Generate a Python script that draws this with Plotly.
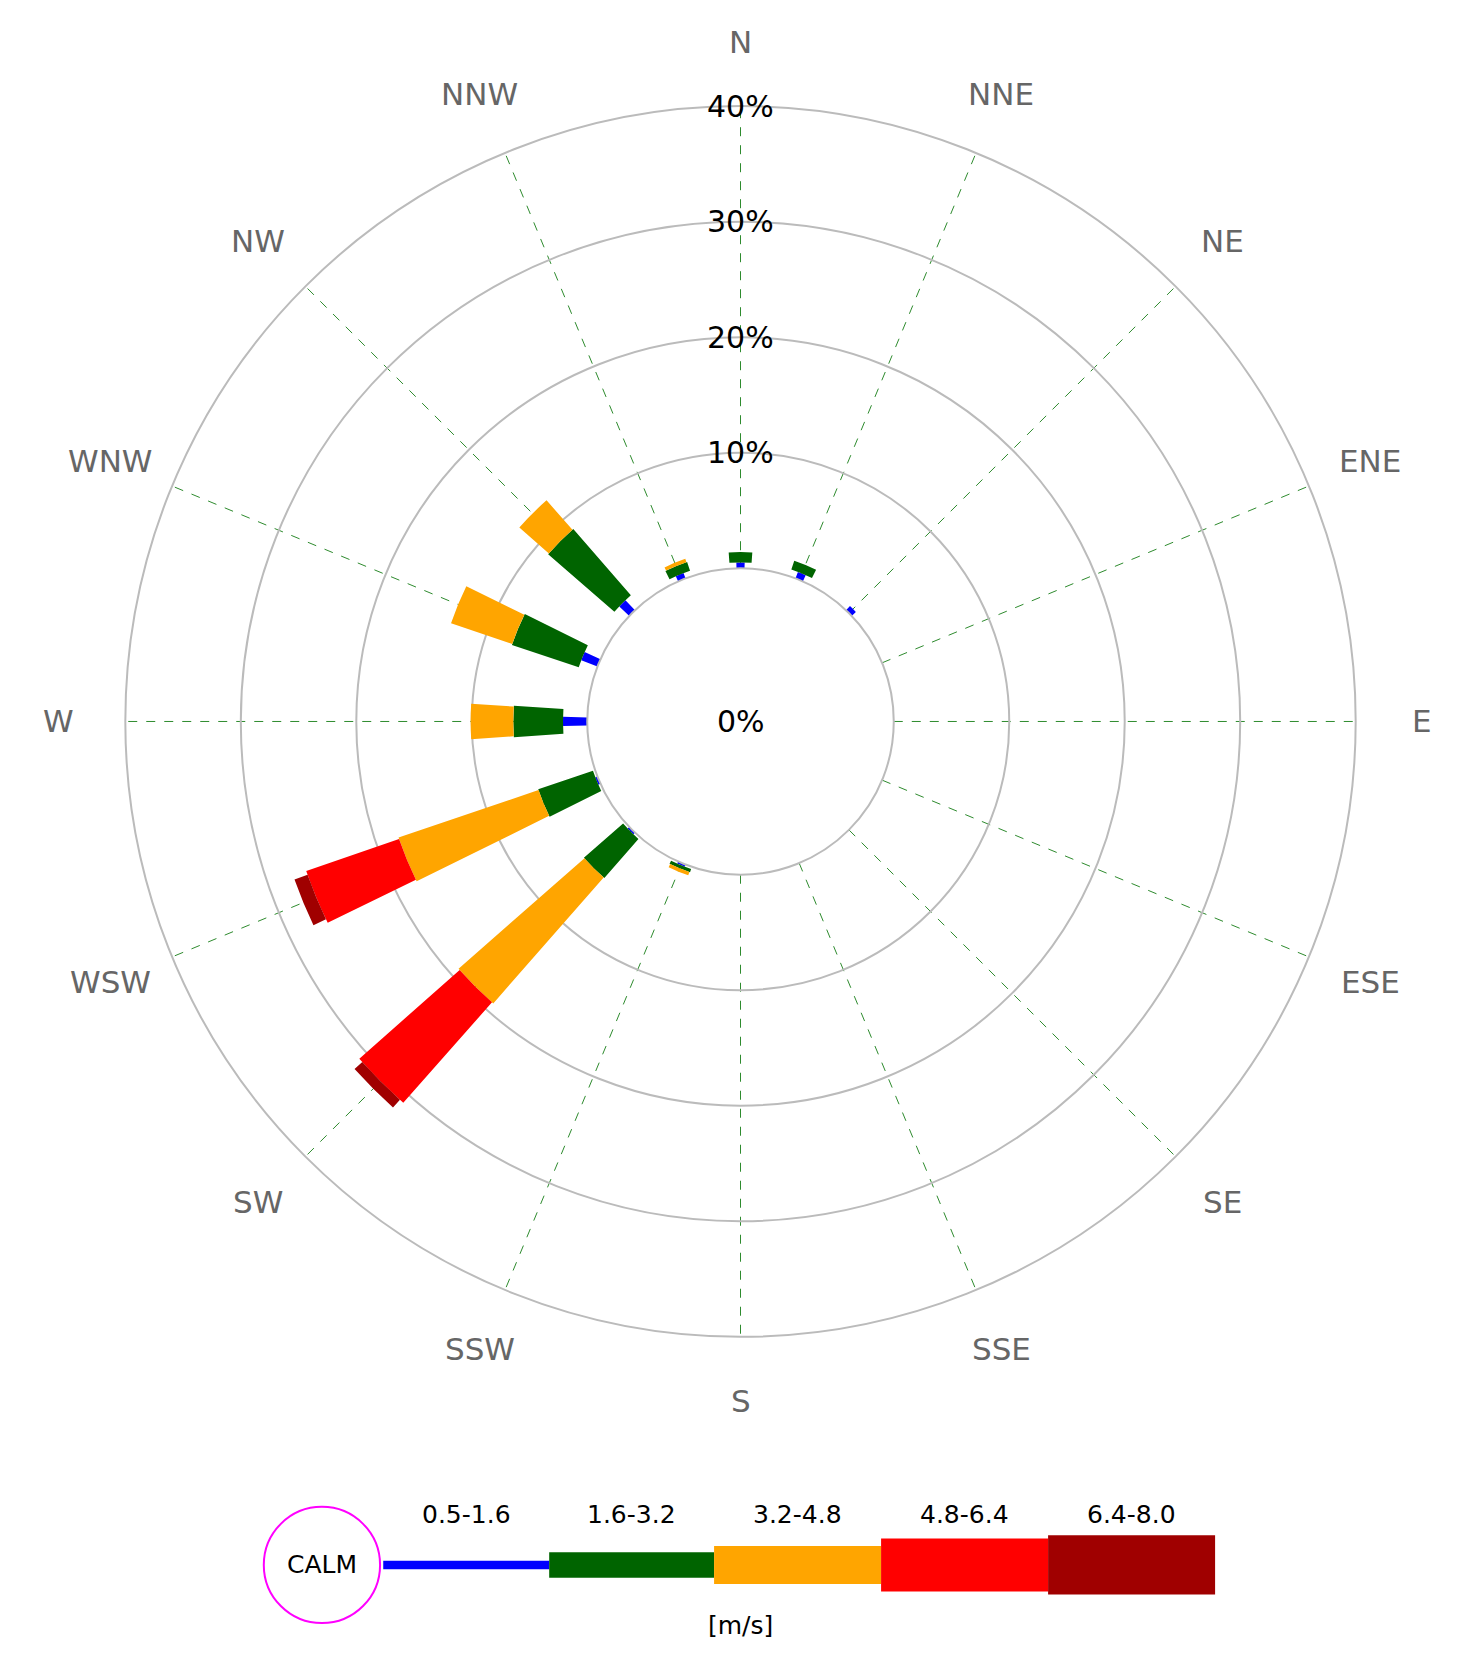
import math
import plotly.graph_objects as go

dirs = ["N","NNE","NE","ENE","E","ESE","SE","SSE","S","SSW","SW","WSW","W","WNW","NW","NNW"]
bins = ["0.5-1.6","1.6-3.2","3.2-4.8","4.8-6.4","6.4-8.0"]
colors = ["#0000ff","#006400","#ffa500","#ff0000","#a00000"]
v05 = [0.5,0.6,0.5,0,0,0,0,0,0,0.2,0.2,0.2,2.1,1.5,1.2,0.5]
v16 = [0.9,0.8,0,0,0,0,0,0,0,0.3,4.5,5.0,4.3,6.1,7.6,0.8]
v32 = [0,0,0,0,0,0,0,0,0,0.3,14.5,12.8,3.7,5.6,3.4,0.3]
v48 = [0,0,0,0,0,0,0,0,0,0,11.6,8.5,0,0,0,0]
v64 = [0,0,0,0,0,0,0,0,0,0,0.9,1.2,0,0,0,0]
rings = [10,20,30,40]
series = [v05,v16,v32,v48,v64]
widths = [3,8,7.5,7,6]
angles = [i*22.5 for i in range(16)]

W, H = 1483, 1676
S = 1.057
def px(x): return x*S/W
def py(y): return 1-y*S/H

cx, cy, R, R0 = 693, 675, 582, 145

fig = go.Figure()
for vals,c,w,n in zip(series,colors,widths,bins):
    fig.add_trace(go.Barpolar(r=vals, theta=angles, name=n, marker_color=c,
                              marker_line_width=0, width=w, hoverinfo="skip"))

fig.update_layout(
    width=W, height=H, margin=dict(l=0,r=0,t=0,b=0), showlegend=False,
    paper_bgcolor="white", barmode="stack",
    font=dict(family="DejaVu Sans"),
    polar=dict(
        domain=dict(x=[px(cx-R), px(cx+R)], y=[py(cy+R), py(cy-R)]),
        hole=R0/R, bgcolor="white",
        radialaxis=dict(range=[0,40], tickvals=[0]+rings, showticklabels=False,
                        angle=90, showline=False, gridcolor="#bbbbbb", gridwidth=2, ticks=""),
        angularaxis=dict(rotation=90, direction="clockwise", tickvals=angles, showticklabels=False,
                         gridcolor="#2e8b2e", griddash="dash", gridwidth=1, showline=True,
                         linecolor="#bbbbbb", linewidth=2, ticks=""),
    ),
)
for a, d in zip(angles, dirs):
    t = math.radians(a)
    fig.add_annotation(x=px(cx+645*math.sin(t)), y=py(cy-643*math.cos(t)), xref="paper", yref="paper",
                       text=d, showarrow=False, xanchor="center", yanchor="middle",
                       font=dict(size=31,color="#666666"))
for rv in rings:
    fig.add_annotation(x=px(cx), y=py(cy-(R0+(R-R0)*rv/40)), xref="paper", yref="paper",
                       text=f"{rv}%", showarrow=False, xanchor="center", yanchor="middle",
                       font=dict(size=30,color="black"))
fig.add_annotation(x=px(cx), y=py(cy), xref="paper", yref="paper", text="0%", showarrow=False,
                   xanchor="center", yanchor="middle", font=dict(size=30,color="black"))

# legend
fig.add_shape(type="circle", xref="paper", yref="paper", x0=px(242), x1=px(352), y0=py(1528), y1=py(1418),
              line=dict(color="#ff00ff", width=2))
fig.add_annotation(x=px(297), y=py(1473), xref="paper", yref="paper", text="CALM", showarrow=False,
                   xanchor="center", yanchor="middle", font=dict(size=25,color="black"))
thick = [8,24,36,50,56]
xs = [355,512,668,826,984,1142]
for i in range(5):
    fig.add_shape(type="rect", xref="paper", yref="paper", x0=px(xs[i]), x1=px(xs[i+1]),
                  y0=py(1473+thick[i]/2), y1=py(1473-thick[i]/2),
                  fillcolor=colors[i], line_width=0)
    fig.add_annotation(x=px((xs[i]+xs[i+1])/2), y=py(1425), xref="paper", yref="paper", text=bins[i],
                       showarrow=False, xanchor="center", yanchor="middle",
                       font=dict(size=25,color="black"))
fig.add_annotation(x=px(693), y=py(1530), xref="paper", yref="paper", text="[m/s]", showarrow=False,
                   xanchor="center", yanchor="middle", font=dict(size=25,color="black"))
fig.write_html("out.html")
